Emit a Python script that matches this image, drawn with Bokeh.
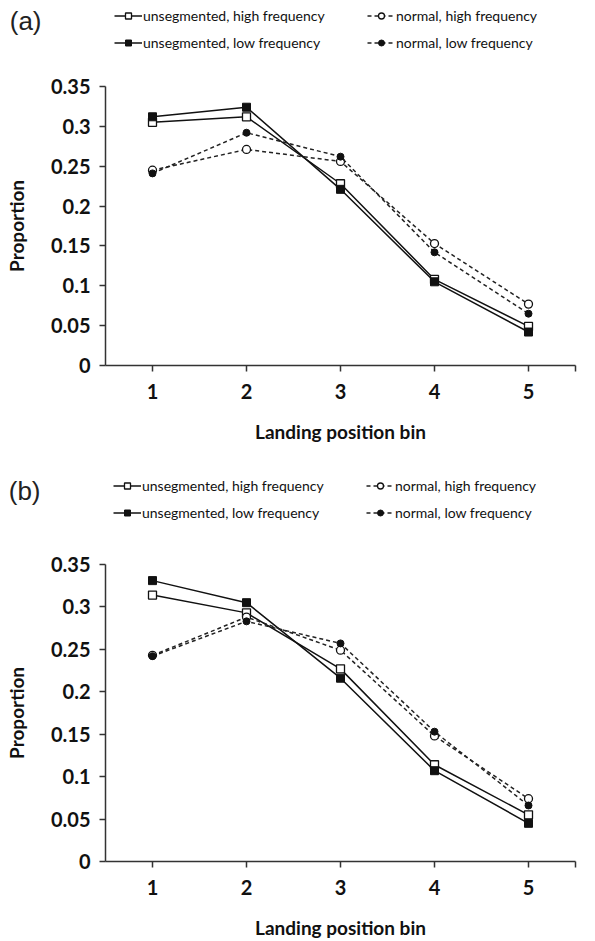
from bokeh.plotting import figure
from bokeh.models import (Legend, LegendItem, FixedTicker, Range1d, ColumnDataSource)
from bokeh.layouts import column
from bokeh.embed import file_html
from bokeh.resources import INLINE

bins = [1, 2, 3, 4, 5]
y_ticks = [0, 0.05, 0.1, 0.15, 0.2, 0.25, 0.3, 0.35]

# Panel (a)
a_unseg_high = [0.305, 0.312, 0.228, 0.108, 0.049]
a_unseg_low = [0.312, 0.324, 0.221, 0.105, 0.042]
a_norm_high = [0.245, 0.271, 0.256, 0.153, 0.077]
a_norm_low = [0.241, 0.292, 0.262, 0.142, 0.065]

# Panel (b)
b_unseg_high = [0.314, 0.293, 0.227, 0.114, 0.055]
b_unseg_low = [0.331, 0.305, 0.216, 0.107, 0.045]
b_norm_high = [0.243, 0.288, 0.249, 0.148, 0.074]
b_norm_low = [0.242, 0.283, 0.257, 0.153, 0.066]

labels = ["unsegmented, high frequency", "unsegmented, low frequency",
          "normal, high frequency", "normal, low frequency"]

FONT = "Lato"
W = 595
KEYS = ("uh", "ul", "nh", "nl")

STYLES = {
    "uh": dict(line=dict(line_color="#111111", line_width=1.5),
               marker=dict(marker="square", size=8, fill_color="white",
                           line_color="#111111", line_width=1.3)),
    "ul": dict(line=dict(line_color="#111111", line_width=1.5),
               marker=dict(marker="square", size=8, fill_color="#111111",
                           line_color="#111111")),
    "nh": dict(line=dict(line_color="#222222", line_width=1.5, line_dash="4 3"),
               marker=dict(marker="circle", size=8, fill_color="white",
                           line_color="#111111", line_width=1.3)),
    "nl": dict(line=dict(line_color="#222222", line_width=1.5, line_dash="4 3"),
               marker=dict(marker="circle", size=7, fill_color="#111111",
                           line_color="#111111")),
}


def style_legend(leg):
    leg.label_text_font = FONT
    leg.label_text_font_size = "14px"
    leg.label_text_color = "#111111"
    leg.glyph_width = 28
    leg.glyph_height = 15
    leg.label_height = 20
    leg.label_standoff = 1
    leg.spacing = 7
    leg.padding = 0
    leg.margin = 0
    leg.border_line_color = None
    leg.background_fill_alpha = 0


def make_header(tag, series, left, height=60):
    # header strip: tag label (as left-axis tick label) and the legend.
    # The y range (10..16) keeps the series themselves out of view; only their
    # legend glyphs are shown here.
    h = figure(width=W, height=height, output_backend="svg", toolbar_location=None,
               x_range=Range1d(0.5, 5.5), y_range=Range1d(10, 16),
               x_axis_type=None,
               min_border_left=left, min_border_right=W - 575, min_border_top=0,
               min_border_bottom=0)
    h.outline_line_color = None
    h.xgrid.visible = False
    h.ygrid.visible = False
    src = ColumnDataSource(dict(x=bins, **dict(zip(KEYS, series))))
    rend = {}
    for key in KEYS:
        rl = h.line("x", key, source=src, **STYLES[key]["line"])
        rm = h.scatter("x", key, source=src, **STYLES[key]["marker"])
        rend[key] = [rl, rm]
    leg1 = Legend(items=[LegendItem(label=labels[0], renderers=rend["uh"]),
                         LegendItem(label=labels[1], renderers=rend["ul"])],
                  location=(113 - left, height - 5 - 47))
    leg2 = Legend(items=[LegendItem(label=labels[2], renderers=rend["nh"]),
                         LegendItem(label=labels[3], renderers=rend["nl"])],
                  location=(366 - left, height - 5 - 47))
    style_legend(leg1)
    style_legend(leg2)
    h.add_layout(leg1)
    h.add_layout(leg2)

    ax = h.yaxis[0]
    ax.ticker = FixedTicker(ticks=[14])
    ax.major_label_overrides = {14: tag}
    ax.axis_line_color = None
    ax.major_tick_line_color = None
    ax.minor_tick_line_color = None
    ax.major_tick_in = 0
    ax.major_tick_out = 0
    ax.major_label_standoff = left - 40
    ax.major_label_text_font = "Liberation Sans"
    ax.major_label_text_font_size = "26px"
    ax.major_label_text_color = "#222222"
    return h


def make_panel(series, height, top, bottom, left):
    p = figure(width=W, height=height, output_backend="svg", toolbar_location=None,
               x_range=Range1d(0.5, 5.5), y_range=Range1d(0, 0.35),
               min_border_left=left, min_border_right=W - 575, min_border_top=top,
               min_border_bottom=bottom)
    p.outline_line_color = None
    p.xgrid.visible = False
    p.ygrid.visible = False

    src = ColumnDataSource(dict(x=bins, **dict(zip(KEYS, series))))
    for key in KEYS:
        p.line("x", key, source=src, **STYLES[key]["line"])
        p.scatter("x", key, source=src, **STYLES[key]["marker"])

    for ax in (p.xaxis[0], p.yaxis[0]):
        ax.axis_line_color = "#333333"
        ax.axis_line_width = 1.5
        ax.major_tick_line_color = "#333333"
        ax.major_tick_line_width = 1.5
        ax.major_tick_in = 0
        ax.major_tick_out = 6
        ax.minor_tick_line_color = None
        ax.major_label_text_font = FONT
        ax.major_label_text_font_style = "bold"
        ax.major_label_text_font_size = "20px"
        ax.major_label_text_color = "#111111"
        ax.axis_label_text_font = FONT
        ax.axis_label_text_font_style = "bold"
        ax.axis_label_text_font_size = "19px"
        ax.axis_label_text_color = "#111111"

    p.xaxis.ticker = FixedTicker(ticks=[1, 2, 3, 4, 5, 5.5])
    p.xaxis.major_label_overrides = {5.5: ""}
    p.xaxis.major_label_standoff = 12
    p.xaxis.axis_label = "Landing position bin"
    p.xaxis.axis_label_standoff = 18

    p.yaxis.ticker = FixedTicker(ticks=y_ticks)
    p.yaxis.major_label_overrides = {0: "0", 0.05: "0.05", 0.1: "0.1", 0.15: "0.15",
                                     0.2: "0.2", 0.25: "0.25", 0.3: "0.3", 0.35: "0.35"}
    p.yaxis.major_label_standoff = 9
    p.yaxis.axis_label = "Proportion"
    p.yaxis.axis_label_standoff = 20
    return p


series_a = (a_unseg_high, a_unseg_low, a_norm_high, a_norm_low)
series_b = (b_unseg_high, b_unseg_low, b_norm_high, b_norm_low)

ha = make_header("(a)", series_a, left=104)
pa = make_panel(series_a, height=410, top=26, bottom=105, left=104)
hb = make_header("(b)", series_b, left=105)
pb = make_panel(series_b, height=411, top=34, bottom=80, left=105)

layout = column(ha, pa, hb, pb, spacing=0)
open("out.html", "w").write(file_html(layout, INLINE))
